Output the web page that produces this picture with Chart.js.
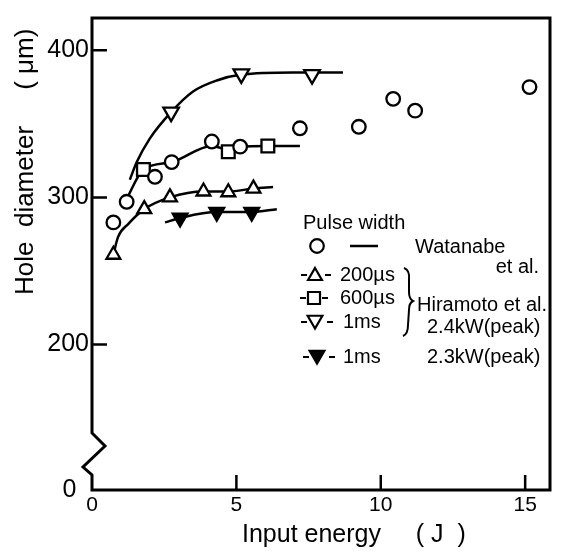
<!DOCTYPE html>
<html>
<head>
<meta charset="utf-8">
<script src="https://cdn.jsdelivr.net/npm/chart.js@4/dist/chart.umd.min.js"></script>
<style>
html,body{margin:0;padding:0;background:#fff;}
#c{display:block;}
</style>
</head>
<body>
<canvas id="c" width="563" height="554"></canvas>
<script>
// ---------- data ----------
const xTicks = [0, 5, 10, 15];
const yTicks = [0, 200, 300, 400];
const yBreakValue = 101;   // value at the bottom of the broken axis, labelled "0"
const xMax = 15.86;
const yMax = 422;

// Watanabe et al. (circles)
const watanabeX = [0.74, 1.2, 2.18, 2.76, 4.15, 5.13, 7.2, 9.24, 10.43, 11.19, 15.15];
const watanabeY = [283, 297, 314, 324, 338, 334.5, 347, 348, 367, 359, 375];
// Hiramoto et al. 200 µs (open triangles)
const us200X = [0.74, 1.81, 2.7, 3.86, 4.72, 5.59];
const us200Y = [261, 292, 300, 304, 303.5, 306];
// Hiramoto et al. 600 µs (squares)
const us600X = [1.78, 4.72, 6.09];
const us600Y = [319, 331, 335];
// Hiramoto et al. 1 ms 2.4 kW (open inverted triangles)
const ms1X = [2.74, 5.17, 7.62];
const ms1Y = [358, 384, 383.5];
// 1 ms 2.3 kW (filled inverted triangles)
const ms1lowX = [3.05, 4.32, 5.53];
const ms1lowY = [286, 290, 290];

// curves as drawn in the figure
const curve200X = [0.74, 0.9, 1.26, 1.81, 2.7, 3.86, 4.72, 5.59, 6.27];
const curve200Y = [261, 273, 282, 292, 300, 304, 304, 306, 307];
const curve600X = [1.2, 1.78, 2.76, 4.15, 4.72, 5.13, 6.09, 7.2];
const curve600Y = [299, 319, 324, 335, 332.5, 334.5, 335, 335];
const curve1msX = [1.31, 1.55, 2.0, 2.74, 3.5, 4.32, 5.18, 6.97, 8.69];
const curve1msY = [312, 324, 340, 358, 372, 379.5, 383.5, 385, 385];
const curveLowX = [2.53, 3.05, 4.32, 5.53, 6.4];
const curveLowY = [283, 286, 290, 290, 292];

// ---------- chart ----------
const FONT = "'Liberation Sans', Arial, sans-serif";
Chart.defaults.font.family = FONT;
Chart.defaults.color = '#000';

function pts(xs, ys) { return xs.map((x, i) => ({ x: x, y: ys[i] })); }

const marker = {
  showLine: false, borderColor: '#000', pointBorderColor: '#000',
  pointBorderWidth: 2.3, pointBackgroundColor: '#fff', pointHoverRadius: 0
};
const curve = {
  showLine: true, pointRadius: 0, pointHoverRadius: 0, borderColor: '#000',
  borderWidth: 2.5, cubicInterpolationMode: 'monotone', fill: false
};

const framePlugin = {
  id: 'frame',
  afterDraw(chart) {
    const ctx = chart.ctx;
    const a = chart.chartArea;
    const xs = chart.scales.x, ys = chart.scales.y;
    ctx.save();
    ctx.strokeStyle = '#000';
    ctx.fillStyle = '#000';
    ctx.lineCap = 'square';
    ctx.lineJoin = 'miter';
    // frame with broken left axis
    ctx.lineWidth = 3;
    ctx.beginPath();
    ctx.moveTo(a.right, a.bottom);
    ctx.lineTo(a.right, a.top);
    ctx.lineTo(a.left, a.top);
    ctx.lineTo(a.left, a.bottom - 57);
    ctx.lineTo(a.left + 13, a.bottom - 44);
    ctx.lineTo(a.left - 9, a.bottom - 23);
    ctx.lineTo(a.left, a.bottom - 15);
    ctx.lineTo(a.left, a.bottom);
    ctx.lineTo(a.right, a.bottom);
    ctx.stroke();
    // inner tick marks
    ctx.lineWidth = 2.5;
    ctx.lineCap = 'butt';
    ctx.beginPath();
    yTicks.filter(v => v > 0).forEach(v => {
      const py = ys.getPixelForValue(v);
      ctx.moveTo(a.left, py); ctx.lineTo(a.left + 15, py);
    });
    xTicks.filter(v => v > 0).forEach(v => {
      const px = xs.getPixelForValue(v);
      ctx.moveTo(px, a.bottom); ctx.lineTo(px, a.bottom - 15);
    });
    ctx.stroke();

    // axis titles
    ctx.font = '25px ' + FONT;
    ctx.textAlign = 'left';
    ctx.textBaseline = 'alphabetic';
    ctx.fillText('Input energy     ( J  )', 242, 542);
    ctx.save();
    ctx.translate(33, 295);
    ctx.rotate(-Math.PI / 2);
    ctx.font = '26px ' + FONT;
    ctx.fillText('Hole  diameter     ( μm)', 0, 0);
    ctx.restore();

    // legend block
    ctx.font = '20px ' + FONT;
    ctx.textBaseline = 'middle';
    ctx.fillText('Pulse width', 303, 223);
    const draw = (style, rot, r, fill, x, y) => {
      ctx.fillStyle = fill;
      ctx.lineWidth = 2.2;
      Chart.helpers.drawPoint(ctx, { pointStyle: style, rotation: rot, radius: r, borderWidth: 2.2 }, x, y);
      ctx.fillStyle = '#000';
    };
    const dashes = (y, x1, x2) => {
      ctx.lineWidth = 2;
      ctx.beginPath();
      ctx.moveTo(x1, y); ctx.lineTo(x1 + 6, y);
      ctx.moveTo(x2, y); ctx.lineTo(x2 + 6, y);
      ctx.stroke();
    };
    // Watanabe row
    draw('circle', 0, 6.8, '#fff', 317, 246);
    ctx.lineWidth = 2.5;
    ctx.beginPath(); ctx.moveTo(350, 246); ctx.lineTo(378, 246); ctx.stroke();
    ctx.fillText('Watanabe', 415, 247);
    ctx.textAlign = 'right';
    ctx.fillText('et al.', 539, 267);
    ctx.textAlign = 'left';
    // 200 µs
    dashes(275, 301, 325);
    draw('triangle', 0, 8, '#fff', 315, 276);
    ctx.fillText('200µs', 340, 275);
    // 600 µs
    dashes(298, 300, 322);
    draw('rect', 0, 8.5, '#fff', 314, 298);
    ctx.fillText('600µs', 340, 298);
    // 1 ms open
    dashes(322, 301, 327);
    draw('triangle', 180, 8.5, '#fff', 315, 320);
    ctx.fillText('1ms', 343, 322);
    // 1 ms filled
    dashes(357, 303, 329);
    draw('triangle', 180, 8.5, '#000', 317, 355);
    ctx.fillText('1ms', 343, 357);
    // brace
    ctx.lineWidth = 2;
    ctx.beginPath();
    ctx.moveTo(404, 268);
    ctx.quadraticCurveTo(410, 270, 409, 280);
    ctx.lineTo(409, 292);
    ctx.quadraticCurveTo(409, 299, 413, 301);
    ctx.quadraticCurveTo(409, 303, 409, 310);
    ctx.lineTo(408, 325);
    ctx.quadraticCurveTo(408, 334, 403, 336);
    ctx.stroke();
    ctx.fillText('Hiramoto et al.', 417, 305);
    ctx.fillText('2.4kW(peak)', 427, 327);
    ctx.fillText('2.3kW(peak)', 427, 357);
    ctx.restore();
  }
};

new Chart(document.getElementById('c'), {
  type: 'line',
  data: {
    datasets: [
      Object.assign({ label: 'Watanabe et al.', data: pts(watanabeX, watanabeY), pointStyle: 'circle', pointRadius: 6.8 }, marker),
      Object.assign({ label: '200µs', data: pts(us200X, us200Y), pointStyle: 'triangle', pointRadius: 8 }, marker),
      Object.assign({ label: '600µs', data: pts(us600X, us600Y), pointStyle: 'rect', pointRadius: 9 }, marker),
      Object.assign({ label: '1ms 2.4kW(peak)', data: pts(ms1X, ms1Y), pointStyle: 'triangle', pointRotation: 180, pointRadius: 9 }, marker),
      Object.assign({}, marker, { label: '1ms 2.3kW(peak)', data: pts(ms1lowX, ms1lowY), pointStyle: 'triangle', pointRotation: 180, pointRadius: 8.5, pointBackgroundColor: '#000' }),
      Object.assign({ label: '200µs curve', data: pts(curve200X, curve200Y) }, curve),
      Object.assign({ label: '600µs curve', data: pts(curve600X, curve600Y) }, curve),
      Object.assign({ label: '1ms curve', data: pts(curve1msX, curve1msY) }, curve),
      Object.assign({ label: '1ms 2.3kW curve', data: pts(curveLowX, curveLowY) }, curve)
    ]
  },
  options: {
    responsive: false,
    animation: false,
    devicePixelRatio: 1,
    layout: { padding: { top: 15, right: 13, left: 0, bottom: 0 } },
    plugins: { legend: { display: false }, tooltip: { enabled: false } },
    events: [],
    scales: {
      x: {
        type: 'linear', min: 0, max: xMax,
        grid: { display: false, drawTicks: false },
        border: { display: false },
        afterBuildTicks(s) { s.ticks = xTicks.map(v => ({ value: v })); },
        afterFit(s) { s.height = 64; },
        ticks: { font: { size: 21 }, padding: 3, maxRotation: 0, autoSkip: false, callback: v => String(v) }
      },
      y: {
        type: 'linear', min: yBreakValue, max: yMax,
        grid: { display: false, drawTicks: false },
        border: { display: false },
        afterBuildTicks(s) { s.ticks = yTicks.map(v => ({ value: v === 0 ? yBreakValue : v })); },
        afterFit(s) { s.width = 92; },
        ticks: { font: { size: 25 }, padding: 3, autoSkip: false, callback: v => (v === yBreakValue ? '0\u2002' : String(v)) }
      }
    }
  },
  plugins: [framePlugin]
});
</script>
</body>
</html>
